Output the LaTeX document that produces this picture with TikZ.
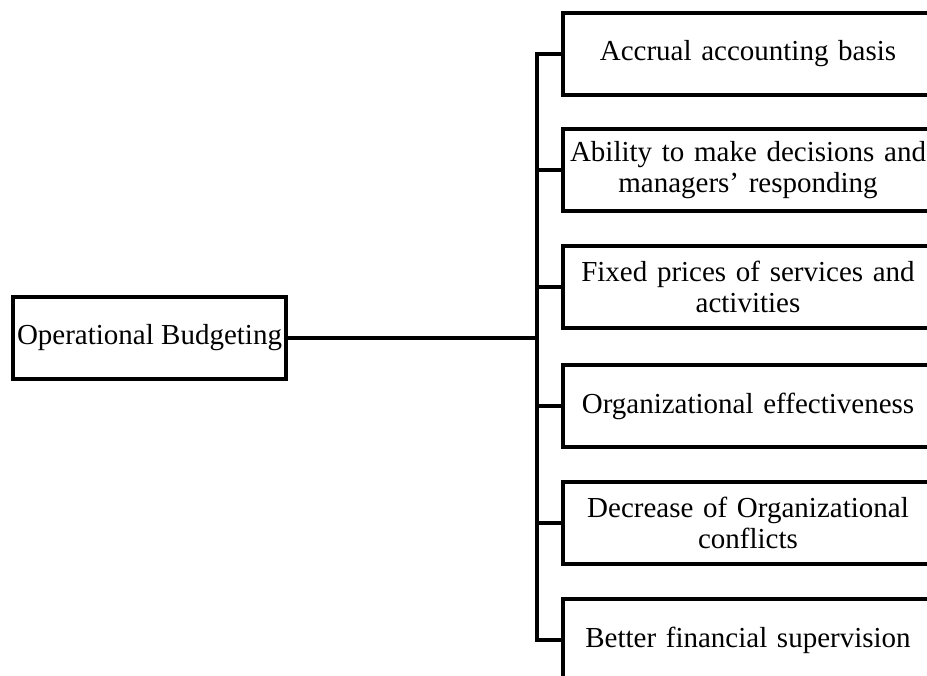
\documentclass[tikz,border=0pt]{standalone}
\usepackage{fontspec}
\setmainfont{Liberation Serif}
\begin{document}
\begin{tikzpicture}[x=1pt,y=-1pt,
  box/.style={draw, line width=4.5pt, inner sep=0pt, align=center,
    font=\fontsize{29}{31}\selectfont},
  rbox/.style={box, minimum width=370pt, minimum height=82pt, text width=366pt},
  link/.style={line width=4.5pt}]
\useasboundingbox (0,0) rectangle (927,676);
\node[box, minimum width=273pt, minimum height=82pt] (root) at (149.5,338) {Operational Budgeting};
\node[rbox] (b1) at (748,54) {Accrual accounting basis};
\node[rbox] (b2) at (748,170) {Ability to make decisions and\\managers’ responding};
\node[rbox] (b3) at (748,287) {Fixed prices of services and\\activities};
\node[rbox] (b4) at (748,406) {Organizational effectiveness};
\node[rbox] (b5) at (748,523) {Decrease of Organizational\\conflicts};
\node[rbox] (b6) at (748,640) {Better financial supervision};
\coordinate (sp) at (537,338);
\draw[link] (root.east) -- (sp);
\draw[link] (b1.west) -| (sp) |- (b6.west);
\draw[link] (b2.west) -- (b2.west -| sp);
\draw[link] (b3.west) -- (b3.west -| sp);
\draw[link] (b4.west) -- (b4.west -| sp);
\draw[link] (b5.west) -- (b5.west -| sp);
\end{tikzpicture}
\end{document}
